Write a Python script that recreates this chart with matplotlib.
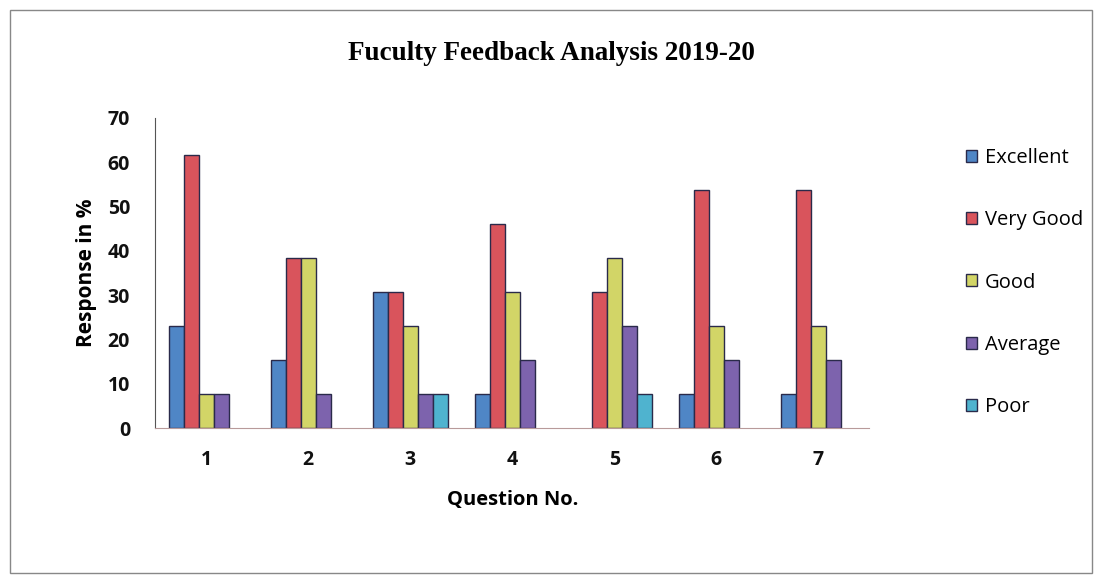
import numpy as np
import matplotlib.pyplot as plt
from matplotlib.patches import Rectangle, Patch

# Feedback data (percent of responses per question)
questions = ["1", "2", "3", "4", "5", "6", "7"]
excellent = [23.08, 15.38, 30.77, 7.69, 0.0, 7.69, 7.69]
very_good = [61.54, 38.46, 30.77, 46.15, 30.77, 53.85, 53.85]
good = [7.69, 38.46, 23.08, 30.77, 38.46, 23.08, 23.08]
average = [7.69, 7.69, 7.69, 15.38, 23.08, 15.38, 15.38]
poor = [0.0, 0.0, 7.69, 0.0, 7.69, 0.0, 0.0]

series_names = ["Excellent", "Very Good", "Good", "Average", "Poor"]
colors = ["#4f86c6", "#d9545c", "#d2d567", "#7d63ad", "#4fb3cf"]

fig = plt.figure(figsize=(11.02, 5.77), dpi=100)
ax = fig.add_axes([0.1407, 0.2582, 0.6483, 0.5373])

x = np.arange(len(questions))
width = 0.147
all_series = [excellent, very_good, good, average, poor]
handles = []
for i, (vals, name, c) in enumerate(zip(all_series, series_names, colors)):
    b = ax.bar(x + (i - 2) * width, vals, width, color=c, edgecolor="#2a2a4a",
               linewidth=1.0, label=name)
    # empty categories show no bar at all
    for rect in b:
        if rect.get_height() == 0:
            rect.set_visible(False)
    handles.append(Patch(facecolor=c, edgecolor="#2a2a4a", linewidth=1.0))

ax.set_xlim(-0.5, len(questions) - 0.5)
ax.set_ylim(0, 70)
ax.set_yticks(range(0, 71, 10))
ax.set_xticks(x)
ax.set_xticklabels(questions)

for s in ["top", "right"]:
    ax.spines[s].set_visible(False)
ax.spines["left"].set_color("#555555")
ax.spines["bottom"].set_color("#b89a9a")
ax.spines["bottom"].set_linestyle((0, (4, 1)))
ax.tick_params(axis="y", length=0, pad=18)
ax.tick_params(axis="x", length=0, pad=16)
for lbl in ax.get_yticklabels() + ax.get_xticklabels():
    lbl.set_fontfamily("Open Sans")
    lbl.set_fontweight("bold")
    lbl.set_fontsize(14)
    lbl.set_color("#111111")

ax.set_xlabel("Question No.", fontfamily="Open Sans", fontweight="bold",
              fontsize=14.5, labelpad=14)
ax.set_ylabel("Response in %", fontfamily="Open Sans", fontweight="bold",
              fontsize=15, labelpad=8)

fig.text(0.5, 0.908, "Fuculty Feedback Analysis 2019-20", ha="center",
         va="center", fontfamily="Liberation Serif", fontweight="bold",
         fontsize=19.5)

fig.legend(handles=handles, labels=series_names, loc="upper left",
           bbox_to_anchor=(0.86, 0.775), frameon=False,
           prop={"family": "Open Sans", "size": 14.5},
           handlelength=0.55, handleheight=0.55, handletextpad=0.4,
           labelspacing=2.1)

# thin frame around the whole chart
fig.patches.append(Rectangle((0.009, 0.007), 0.982, 0.975,
                             transform=fig.transFigure, fill=False,
                             edgecolor="#888888", linewidth=1.0))

fig.savefig("out.png", dpi=100)
